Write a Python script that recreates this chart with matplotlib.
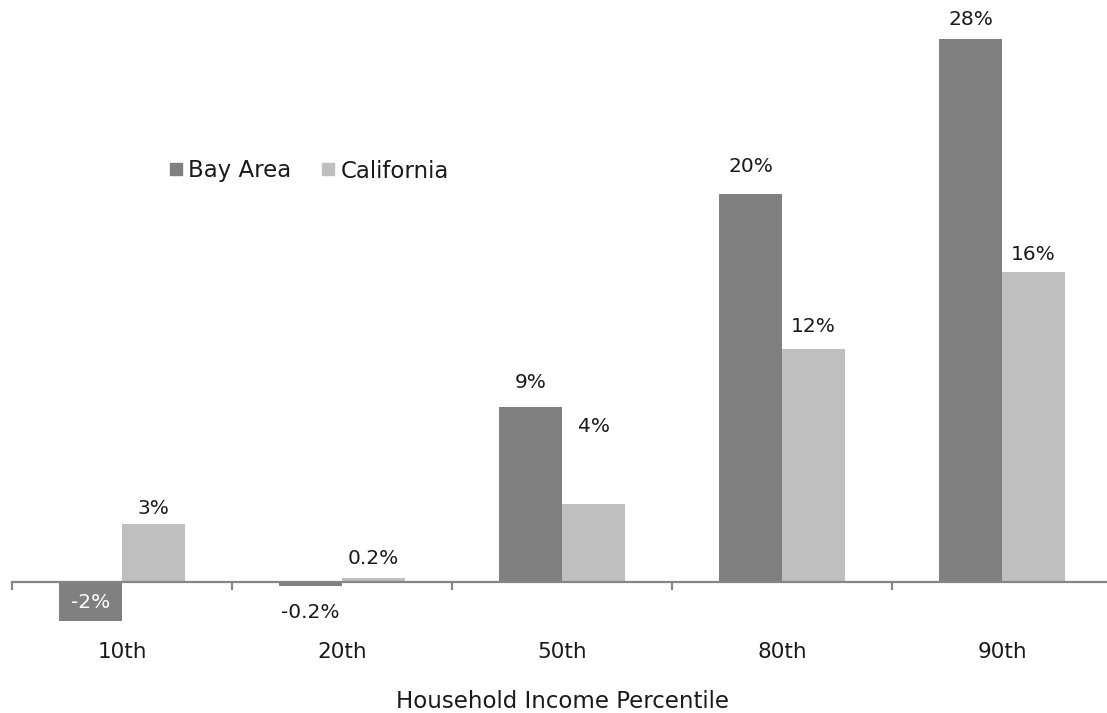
import matplotlib
matplotlib.use("Agg")
import matplotlib.pyplot as plt
from matplotlib.lines import Line2D
import numpy as np

# Income growth by household income percentile
categories = ["10th", "20th", "50th", "80th", "90th"]
bay_area = [-2, -0.2, 9, 20, 28]
california = [3, 0.2, 4, 12, 16]
bay_labels = ["-2%", "-0.2%", "9%", "20%", "28%"]
ca_labels = ["3%", "0.2%", "4%", "12%", "16%"]
series_names = ["Bay Area", "California"]
x_title = "Household Income Percentile"

plt.rcParams["font.family"] = ["DejaVu Sans"]
FS = 14.5
FS_TICK = 15.5
FS_WORDS = 16.5
TXT = "#1a1a1a"
C_BAY = "#808080"
C_CA = "#bfbfbf"
AXIS = "#868686"

W, H = 1107, 713
fig = plt.figure(figsize=(W / 100, H / 100), dpi=100)

# axes spans px 12..1112 horizontally, 0..624.7 vertically
left_px, right_px = 12, 1112
top_px, bottom_px = 0.0, 624.7
ax = fig.add_axes([left_px / W, (H - bottom_px) / H,
                   (right_px - left_px) / W, (bottom_px - top_px) / H])

x = np.arange(len(categories))
bw = 0.2864
ax.bar(x - bw / 2, bay_area, width=bw, color=C_BAY, zorder=2)
ax.bar(x + bw / 2, california, width=bw, color=C_CA, zorder=2)

ax.set_xlim(-0.5, len(categories) - 0.5)
ax.set_ylim(-2.2, 30)

for side in ["top", "right", "left"]:
    ax.spines[side].set_visible(False)
ax.spines["bottom"].set_position(("data", 0))
ax.spines["bottom"].set_color(AXIS)
ax.spines["bottom"].set_linewidth(1.6)
ax.spines["bottom"].set_zorder(3)
ax.set_yticks([])

# category labels at centres, boundary tick marks between groups
ax.set_xticks(x)
ax.set_xticklabels(categories, fontsize=FS_TICK, color=TXT)
ax.tick_params(axis="x", which="major", length=0, pad=43)
ax.set_xticks(np.arange(-0.5, len(categories)), minor=True)
ax.tick_params(axis="x", which="minor", length=6, width=1.6, color=AXIS,
               direction="out")

# value labels (offsets in pixels from bar end)
bay_off = [18, -27, 25, 28, 19]
ca_off = [15, 20, 78, 23, 17]
for i in range(len(categories)):
    col = "white" if i == 0 else TXT
    ax.annotate(bay_labels[i], (x[i] - bw / 2, bay_area[i]),
                xytext=(0, bay_off[i]), textcoords="offset pixels",
                ha="center", va="center", fontsize=FS, color=col, zorder=4)
    ax.annotate(ca_labels[i], (x[i] + bw / 2, california[i]),
                xytext=(0, ca_off[i]), textcoords="offset pixels",
                ha="center", va="center", fontsize=FS, color=TXT, zorder=4)

fig.text(562 / W, 1 - 702 / H, x_title, ha="center", va="center",
         fontsize=FS_WORDS, color=TXT)

handles = [Line2D([], [], marker="s", linestyle="none", markersize=9,
                  markerfacecolor=c, markeredgecolor=c) for c in (C_BAY, C_CA)]
fig.legend(handles, series_names, loc="center left",
           bbox_to_anchor=(148 / W, 1 - 171 / H), ncol=2, frameon=False,
           fontsize=FS_WORDS, handlelength=0.6, handletextpad=0.25,
           columnspacing=1.3, labelcolor=TXT)

fig.savefig("out.png", dpi=100, facecolor="white")
